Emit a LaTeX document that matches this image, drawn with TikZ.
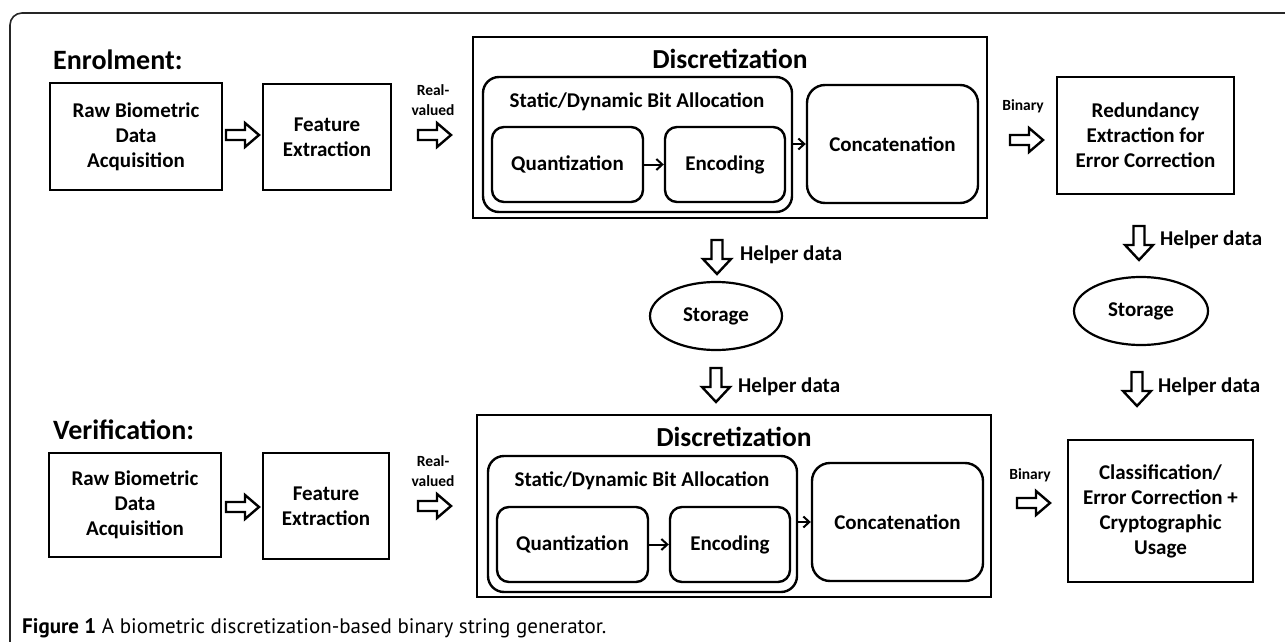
\documentclass[tikz,border=0pt]{standalone}
\usepackage{fontspec}
\setmainfont{Carlito}
\newfontfamily\capfont{PT Sans}
\usetikzlibrary{arrows.meta,shapes.geometric}
\tikzset{
  framebox/.style={draw, line width=2.6pt, align=center, inner sep=0pt,
     font=\fontsize{21}{25}\selectfont\bfseries},
  roundbox/.style={framebox, line width=2.4pt, rounded corners=14pt},
  hollow/.style={draw, line width=2.4pt, line join=miter, fill=white},
  thinarrow/.style={line width=2pt, -{Straight Barb[length=6pt,width=11pt,line width=2pt]}},
  smalllabel/.style={align=center, font=\fontsize{15.5}{19.5}\selectfont\bfseries},
  helperlabel/.style={anchor=west, inner sep=0pt, font=\fontsize{21}{24}\selectfont\bfseries},
  storage/.style={draw, ellipse, line width=2.2pt, inner sep=0pt,
     font=\fontsize{21}{24}\selectfont\bfseries},
  titletext/.style={font=\fontsize{27.5}{32}\selectfont\bfseries},
  sectiontext/.style={anchor=west, inner sep=0pt, font=\fontsize{28}{32}\selectfont\bfseries},
  harrow/.pic={\path[hollow] (0,-5) -- (19,-5) -- (19,-12) -- (33,0) -- (19,12) -- (19,5) -- (0,5) -- cycle;},
  varrow/.pic={\path[hollow] (-5.5,0) -- (5.5,0) -- (5.5,19) -- (14,19) -- (0,34) -- (-14,19) -- (-5.5,19) -- cycle;}
}
\begin{document}
\begin{tikzpicture}[x=1pt,y=-1pt]
\useasboundingbox (0,0) rectangle (1285,642);
\fill[white] (0,0) rectangle (1285,642);
% outer frame
\draw[line width=1.6pt, black!85, rounded corners=12pt] (10,642) -- (10,13) -- (1285,13);

% ===== Enrolment =====
\node[sectiontext] (enrol) at (53,60) {Enrolment:};
\node[framebox, minimum width=172pt, minimum height=107pt] (raw1) at (136,136.5) {Raw Biometric\\Data\\Acquisition};
\node[framebox, minimum width=128pt, minimum height=106pt] (feat1) at (327,137) {Feature\\Extraction};
\pic at (226,135) {harrow};
\node[smalllabel] (real1) at (433,100) {Real-\\valued};
\pic at (418,135) {harrow};

\node[draw, line width=2.8pt, minimum width=514pt, minimum height=181pt, inner sep=0pt] (disc1) at (730,127.5) {};
\node[titletext] (disct1) at (730,59) {Discretization};
\node[roundbox, rounded corners=16pt, minimum width=309pt, minimum height=135pt] (stat1) at (637.5,144.5) {};
\node[framebox, draw=none] (statl1) at (637,102) {Static/Dynamic Bit Allocation};
\node[roundbox, rounded corners=12pt, minimum width=151pt, minimum height=75pt] (quant1) at (567.5,164.5) {Quantization};
\node[roundbox, rounded corners=12pt, minimum width=120pt, minimum height=75pt] (enc1) at (725,164.5) {Encoding};
\node[roundbox, rounded corners=18pt, minimum width=171pt, minimum height=118pt] (conc1) at (892.5,144) {Concatenation};
\draw[thinarrow] (quant1.east) -- (enc1.west);
\draw[thinarrow] (stat1.east |- conc1.west) -- (conc1.west);

\node[smalllabel] (bin1) at (1023,106) {Binary};
\pic at (1010,140) {harrow};
\node[framebox, minimum width=177pt, minimum height=117pt] (red1) at (1145.5,135.5) {Redundancy\\Extraction for\\Error Correction};

% helper data / storage (left)
\pic at (717,240) {varrow};
\node[helperlabel] (h1) at (740,255) {Helper data};
\node[storage, minimum width=132pt, minimum height=68pt] (st1) at (716,316) {Storage};
\pic at (716,368) {varrow};
\node[helperlabel] (h2) at (738,387) {Helper data};

% helper data / storage (right)
\pic at (1139,226) {varrow};
\node[helperlabel] (h3) at (1160,240) {Helper data};
\node[storage, minimum width=134pt, minimum height=68pt] (st2) at (1141,311) {Storage};
\pic at (1137,372) {varrow};
\node[helperlabel] (h4) at (1158,387) {Helper data};

% ===== Verification =====
\node[sectiontext] (verif) at (53,430) {Verification:};
\node[framebox, minimum width=172pt, minimum height=104pt] (raw2) at (135,505) {Raw Biometric\\Data\\Acquisition};
\node[framebox, minimum width=126pt, minimum height=106pt] (feat2) at (326,506) {Feature\\Extraction};
\pic at (226,507) {harrow};
\node[smalllabel] (real2) at (433,471) {Real-\\valued};
\pic at (418,506) {harrow};

\node[draw, line width=2.8pt, minimum width=514pt, minimum height=182pt, inner sep=0pt] (disc2) at (734,506) {};
\node[titletext] (disct2) at (734,437) {Discretization};
\node[roundbox, rounded corners=16pt, minimum width=309pt, minimum height=136pt] (stat2) at (642.5,524) {};
\node[framebox, draw=none] (statl2) at (642,481) {Static/Dynamic Bit Allocation};
\node[roundbox, rounded corners=12pt, minimum width=151pt, minimum height=75pt] (quant2) at (572.5,544.5) {Quantization};
\node[roundbox, rounded corners=12pt, minimum width=120pt, minimum height=75pt] (enc2) at (730,544.5) {Encoding};
\node[roundbox, rounded corners=18pt, minimum width=171pt, minimum height=118pt] (conc2) at (897.5,522) {Concatenation};
\draw[thinarrow] (quant2.east) -- (enc2.west);
\draw[thinarrow] (stat2.east |- conc2.west) -- (conc2.west);

\node[smalllabel] (bin2) at (1030,475) {Binary};
\pic at (1017,503) {harrow};
\node[framebox, minimum width=185pt, minimum height=142pt] (cls2) at (1160.5,511) {Classification/\\Error Correction +\\Cryptographic\\Usage};

% caption
\node[anchor=west, inner sep=0pt, font=\capfont\fontsize{21}{24}\selectfont] (cap) at (22,628)
  {\textbf{Figure 1} A biometric discretization-based binary string generator.};
\end{tikzpicture}
\end{document}
